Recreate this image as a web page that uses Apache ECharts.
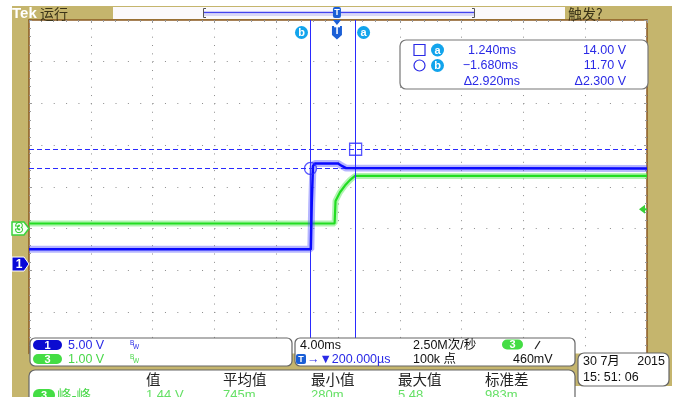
<!DOCTYPE html>
<html><head><meta charset="utf-8">
<script src="https://cdn.jsdelivr.net/npm/echarts@6/dist/echarts.min.js"></script>
<style>html,body{margin:0;padding:0;background:#fff}#c{width:675px;height:397px}</style>
</head><body><div id="c"></div>
<script>
// ---- data ----
const timeRange = [-19.9, 20.1];      // ms, 4.00 ms/div, 10 div
const ch1Range = [-10.5, 29.5];       // V, 5.00 V/div, 8 div
const ch3Range = [-3, 5];             // V, 1.00 V/div, 8 div
const ch1T = [-19.9, -1.66, -1.60, -1.52, -1.40, 0.10, 0.35, 0.62, 20.1];
const ch1V = [2.0, 2.0, 7.5, 12.0, 12.3, 12.3, 12.0, 11.75, 11.7];
const ch3T = [-19.9, -0.12, -0.06, 0.23, 0.55, 0.87, 1.20, 20.1];
const ch3V = [0.12, 0.12, 0.66, 0.87, 1.03, 1.16, 1.26, 1.26];
const cursorT = {a: 1.24, b: -1.68};
const cursorV = {a: 14.00, b: 11.70};
const trigLevel = 0.46;
const readTime = ['1.240ms', '\u22121.680ms', '\u03942.920ms'];
const readVolt = ['14.00 V', '11.70 V', '\u03942.300 V'];
const measHead = ['值', '平均值', '最小值', '最大值', '标准差'];
const measVals = ['1.44 V', '745m', '280m', '5.48', '983m'];

const FONT = '"Liberation Sans", Arial, "Noto Sans CJK SC", sans-serif';
const CJK = '"Noto Sans CJK SC", "Liberation Sans", sans-serif';
const OLIVE = '#c5b56d', BROWN = '#8a5a22', BLUE = '#2a2ae6', GREEN = '#4ad84a', CYAN = '#12a4ec', TBLUE = '#1b5fd6';
const GRID = {left: 29, top: 20, width: 618, height: 333.6};

const chart = echarts.init(document.getElementById('c'), null, {renderer: 'canvas'});
const dotX = {show: true, lineStyle: {color: '#8c8c8c', width: 1, type: [1, 7.34]}};
const dotY = {show: true, lineStyle: {color: '#8c8c8c', width: 1, type: [1, 11.36]}};
const borderAxis = (extra) => Object.assign({
  type: 'value', axisLabel: {show: false}, splitLine: {show: false},
  axisLine: {show: true, onZero: false, lineStyle: {color: BROWN, width: 1.5}},
  axisTick: {show: true, inside: true, length: 3, lineStyle: {color: '#999'}},
  minorTick: {show: true, splitNumber: 5, length: 2, lineStyle: {color: '#999'}},
  minorSplitLine: {show: false}
}, extra);
const pairs = (t, v) => t.map((x, i) => [x, v[i]]);
const noLine = {show: false, onZero: false};

chart.setOption({
  animation: false,
  backgroundColor: 'transparent',
  grid: Object.assign({show: false}, GRID),
  xAxis: [
    {type: 'value', min: 0, max: 10, interval: 1, position: 'bottom', axisLine: noLine, axisTick: {show: false}, axisLabel: {show: false}, splitLine: dotX},
    borderAxis({min: 0, max: 10, interval: 1, position: 'top'}),
    {type: 'value', min: timeRange[0], max: timeRange[1], show: false, axisLine: noLine}
  ],
  yAxis: [
    {type: 'value', min: -4, max: 4, interval: 1, position: 'left', axisLine: noLine, axisTick: {show: false}, axisLabel: {show: false}, splitLine: dotY},
    borderAxis({min: -4, max: 4, interval: 1, position: 'left'}),
    borderAxis({min: -4, max: 4, interval: 1, position: 'right'}),
    {type: 'value', min: ch1Range[0], max: ch1Range[1], show: false, axisLine: noLine},
    {type: 'value', min: ch3Range[0], max: ch3Range[1], show: false, axisLine: noLine}
  ],
  series: [
    {type: 'line', xAxisIndex: 2, yAxisIndex: 3, data: [], z: 2, silent: true,
      markLine: {silent: true, symbol: ['none', 'none'], label: {show: false}, animation: false,
        data: [
          {xAxis: cursorT.a, lineStyle: {color: '#2a2aff', width: 1, type: 'solid'}},
          {xAxis: cursorT.b, lineStyle: {color: '#2a2aff', width: 1, type: 'solid'}},
          {yAxis: cursorV.a, lineStyle: {color: '#2a2aff', width: 1.2, type: [5, 3]}},
          {yAxis: cursorV.b, lineStyle: {color: '#2a2aff', width: 1.2, type: [5, 3]}}
        ]}},
    {type: 'line', xAxisIndex: 2, yAxisIndex: 4, data: pairs(ch3T, ch3V), showSymbol: false, z: 3, silent: true,
      lineStyle: {width: 6, color: 'rgba(80,230,80,0.45)'}},
    {type: 'line', xAxisIndex: 2, yAxisIndex: 4, data: pairs(ch3T, ch3V), showSymbol: false, z: 4, silent: true,
      lineStyle: {width: 2.2, color: '#22dd22'}},
    {type: 'line', xAxisIndex: 2, yAxisIndex: 3, data: pairs(ch1T, ch1V), showSymbol: false, z: 5, silent: true,
      lineStyle: {width: 7, color: 'rgba(70,70,255,0.4)'}},
    {type: 'line', xAxisIndex: 2, yAxisIndex: 3, data: pairs(ch1T, ch1V), showSymbol: false, z: 6, silent: true,
      lineStyle: {width: 2.5, color: '#0a0aff'}},
    {type: 'scatter', xAxisIndex: 2, yAxisIndex: 3, z: 7, silent: true,
      data: [
        {value: [cursorT.a, cursorV.a], symbol: 'rect', symbolSize: 12},
        {value: [cursorT.b, cursorV.b], symbol: 'circle', symbolSize: 12}
      ],
      itemStyle: {color: 'rgba(0,0,0,0)', borderColor: '#2a2aff', borderWidth: 1.3}}
  ]
});

// ---- decorations positioned through the axes ----
const px = (t) => chart.convertToPixel({xAxisIndex: 2}, t);
const py1 = (v) => chart.convertToPixel({yAxisIndex: 3}, v);
const py3 = (v) => chart.convertToPixel({yAxisIndex: 4}, v);
const ax = px(cursorT.a), bx = px(cursorT.b), tx = px(0);
const g1 = py1(0), g3 = py3(0), gt = py3(trigLevel);

const G = [];
const Z = 100;
function rect(x, y, w, h, fill, stroke, r, z, lw) {
  G.push({type: 'rect', shape: {x, y, width: w, height: h, r: r || 0}, style: {fill: fill || 'none', stroke: stroke || 'none', lineWidth: lw || 1}, z: z == null ? Z : z, silent: true});
}
function txt(x, y, s, color, size, opt) {
  opt = opt || {};
  G.push({type: 'text', x, y, z: opt.z || Z + 1, silent: true,
    style: {text: s, fill: color, font: (opt.bold ? 'bold ' : '') + size + 'px ' + (opt.font || FONT),
      align: opt.align || 'left', verticalAlign: opt.va || 'middle',
      stroke: opt.stroke || null, lineWidth: opt.lw || 0}});
}
function circ(cx, cy, r, fill, stroke, z) {
  G.push({type: 'circle', shape: {cx, cy, r}, style: {fill: fill || 'none', stroke: stroke || 'none', lineWidth: 1.2}, z: z || Z, silent: true});
}
function poly(points, fill, stroke, z, lw) {
  G.push({type: 'polygon', shape: {points}, style: {fill: fill || 'none', stroke: stroke || 'none', lineWidth: lw || 1}, z: z || Z, silent: true});
}
function line(x1, y1, x2, y2, color, w, z) {
  G.push({type: 'line', shape: {x1, y1, x2, y2}, style: {stroke: color, lineWidth: w || 1}, z: z || Z, silent: true});
}
function pill(x, y, w, h, fill, s) {
  rect(x, y, w, h, fill, null, h / 2, Z + 1);
  txt(x + w / 2, y + h / 2 + 0.5, s, '#fff', 11, {bold: true, align: 'center', z: Z + 2});
}

// background frame
rect(12, 6, 660, 391, OLIVE, null, 0, -10);
rect(575, 386, 100, 11, '#fff', null, 0, -9);
rect(GRID.left, GRID.top, GRID.width, GRID.height, '#fff', null, 0, -8);

// top bar
txt(12, 13.5, 'Tek', '#fff', 15, {bold: true});
txt(40, 13.5, '运行', '#3b3418', 14, {font: CJK});
rect(113, 7, 452, 12, '#fbf9fb', null, 0, Z);
line(203.5, 8.5, 203.5, 17.5, '#555', 1);
line(203.5, 8.5, 206, 8.5, '#555', 1); line(203.5, 17.5, 206, 17.5, '#555', 1);
line(474.5, 8.5, 474.5, 17.5, '#555', 1);
line(472, 8.5, 474.5, 8.5, '#555', 1); line(472, 17.5, 474.5, 17.5, '#555', 1);
line(204, 12.5, 474, 12.5, '#4444ee', 1.6);
line(204, 15, 474, 15, '#b8b8f2', 1);
rect(tx - 3.5, 7, 8, 11, TBLUE, null, 2, Z + 1);
txt(tx + 0.5, 12.5, 'T', '#fff', 9, {bold: true, align: 'center', z: Z + 2});
poly([[tx - 3.5, 20], [tx + 4.5, 20], [tx + 0.5, 25]], TBLUE, null, Z + 1);
txt(568, 13.5, '触发?', '#3b3418', 14, {font: CJK});

// cursor tags under the top border
circ(bx - 9, 32.5, 6.5, CYAN);
txt(bx - 9, 33, 'b', '#fff', 11, {bold: true, align: 'center'});
circ(ax + 8, 32.5, 6.5, CYAN);
txt(ax + 8, 33, 'a', '#fff', 11, {bold: true, align: 'center'});
poly([[tx - 4.5, 26], [tx + 5.5, 26], [tx + 5.5, 35], [tx + 0.5, 39.5], [tx - 4.5, 35]], TBLUE, null, Z);
txt(tx + 0.5, 31.5, 'T', '#fff', 10, {bold: true, align: 'center'});

// cursor readout box
rect(400, 40, 248, 49, '#fff', '#777', 6, Z, 1.2);
rect(414, 44.5, 11, 11, null, BLUE, 0, Z + 1, 1.2);
circ(419.5, 65.5, 5.5, null, BLUE, Z + 1);
circ(437.5, 50, 6.5, CYAN, null, Z + 1);
txt(437.5, 50.5, 'a', '#fff', 11, {bold: true, align: 'center', z: Z + 2});
circ(437.5, 65.5, 6.5, CYAN, null, Z + 1);
txt(437.5, 66, 'b', '#fff', 11, {bold: true, align: 'center', z: Z + 2});
const rowsY = [50.5, 66, 81.5];
const tRight = [516, 518, 520];
readTime.forEach((s, i) => txt(tRight[i], rowsY[i], s, BLUE, 12.5, {align: 'right'}));
readVolt.forEach((s, i) => txt(626, rowsY[i], s, BLUE, 12.5, {align: 'right'}));

// channel ground markers and trigger level
const m1 = g1 - 2;
poly([[12, m1 - 7], [24, m1 - 7], [29, m1], [24, m1 + 7], [12, m1 + 7]], '#0808d8', '#fff', Z, 1);
txt(19, m1 + 0.5, '1', '#fff', 12, {bold: true, align: 'center'});
poly([[12, g3 - 6.5], [24, g3 - 6.5], [29, g3], [24, g3 + 6.5], [12, g3 + 6.5]], '#f4fff4', '#3ad23a', Z, 1.5);
txt(19, g3 + 0.5, '3', '#fff', 12, {bold: true, align: 'center', stroke: '#33cc33', lw: 2});
poly([[639, gt], [645, gt - 4.5], [645, gt + 4.5]], '#38d038', null, Z);
line(644, gt, 647, gt, '#38d038', 2);

// bottom-left channel box
rect(30, 338, 262, 28, '#fff', '#666', 5, Z, 1.2);
pill(33, 340, 29, 10, '#0b0bd0', '1');
txt(68, 345.5, '5.00 V', BLUE, 12.5);
txt(130, 343, 'B', BLUE, 6.5); txt(133, 347.5, 'W', BLUE, 6.5);
pill(33, 354, 29, 10, '#44dd44', '3');
txt(68, 359.5, '1.00 V', GREEN, 12.5);
txt(130, 357, 'B', GREEN, 6.5); txt(133, 361.5, 'W', GREEN, 6.5);

// horizontal / trigger box
rect(295, 338, 280, 28, '#fff', '#666', 5, Z, 1.2);
txt(300, 345.5, '4.00ms', '#111', 12.5);
txt(413, 345.5, '2.50M次/秒', '#111', 12.5);
pill(502, 339.5, 21, 10, '#44dd44', '3');
line(535, 349, 540, 341, '#222', 1.2);
rect(296, 354, 10, 10, TBLUE, null, 2, Z + 1);
txt(301, 359.5, 'T', '#fff', 9, {bold: true, align: 'center', z: Z + 2});
txt(307, 359.5, '\u2192\u25BC200.000µs', BLUE, 12.5);
txt(413, 359.5, '100k 点', '#111', 12.5);
txt(513, 359.5, '460mV', '#111', 12.5);

// date box
rect(578, 353, 91, 33, '#fff', '#666', 6, Z, 1.2);
txt(583, 362, '30 7月', '#111', 12.5);
txt(665, 362, '2015', '#111', 12.5, {align: 'right'});
txt(583, 378, '15: 51: 06', '#111', 12.5);

// measurement box
rect(29, 370, 546, 40, '#fff', '#666', 6, Z, 1.2);
const measX = [146, 223, 311, 398, 485];
measHead.forEach((s, i) => txt(measX[i], 379.5, s, '#222', 14.5, {font: CJK}));
pill(33, 389, 22, 12, '#44dd44', '3');
txt(57, 395.5, '峰-峰', GREEN, 14.5, {font: CJK});
measVals.forEach((s, i) => txt(measX[i], 395.5, s, '#66e066', 13));

chart.setOption({graphic: G});
</script></body></html>
